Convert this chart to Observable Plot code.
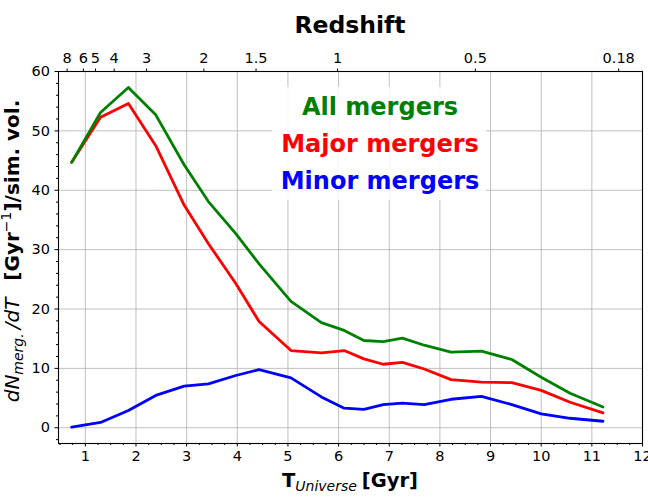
<!DOCTYPE html>
<html>
<head>
<meta charset="utf-8">
<script src="https://cdn.jsdelivr.net/npm/d3@7"></script>
<script src="https://cdn.jsdelivr.net/npm/@observablehq/plot@0.6"></script>
<style>
  html, body { margin: 0; padding: 0; background: white; }
  #chart { width: 648px; height: 504px; }
</style>
</head>
<body>
<div id="chart"></div>
<script>
// Cosmic time (Gyr) of each sample
const times = [0.73, 1.30, 1.85, 2.39, 2.95, 3.43, 3.97, 4.43, 5.06, 5.66, 6.11, 6.50, 6.88, 7.26, 7.69, 8.22, 8.82, 9.42, 10.0, 10.57, 11.22];
const allMergers   = [44.7, 53.1, 57.3, 52.7, 44.3, 38.1, 32.7, 27.6, 21.3, 17.7, 16.4, 14.7, 14.5, 15.1, 13.9, 12.75, 12.9, 11.5, 8.5, 5.8, 3.5];
const majorMergers = [44.7, 52.3, 54.6, 47.5, 37.5, 31.0, 24.3, 17.9, 13.0, 12.6, 13.0, 11.6, 10.7, 11.0, 9.9, 8.1, 7.7, 7.6, 6.3, 4.3, 2.5];
const minorMergers = [0.1, 0.9, 2.9, 5.45, 7.0, 7.4, 8.8, 9.8, 8.4, 5.2, 3.3, 3.1, 3.9, 4.15, 3.9, 4.8, 5.3, 3.9, 2.35, 1.6, 1.1];

// Bottom axis ticks
const xTicks = [1, 2, 3, 4, 5, 6, 7, 8, 9, 10, 11, 12];
const xMinorTicks = d3.range(0.5, 12.01, 0.25).filter(t => !xTicks.includes(t));
const yTicks = [0, 10, 20, 30, 40, 50, 60];
const yMinorTicks = d3.range(-2, 60.1, 2).filter(t => !yTicks.includes(t));

// Top (redshift) axis: labels and the cosmic time they sit at
const redshiftLabels = ["8", "6", "5", "4", "3", "2", "1.5", "1", "0.5", "0.18"];
const redshiftTimes  = [0.64, 0.96, 1.20, 1.57, 2.21, 3.34, 4.37, 5.98, 8.70, 11.53];

const seriesNames = ["All mergers", "Major mergers", "Minor mergers"];
const seriesColors = ["green", "red", "blue"];

const rows = [];
times.forEach((t, i) => {
  rows.push({t, v: majorMergers[i], s: "Major mergers"});
  rows.push({t, v: minorMergers[i], s: "Minor mergers"});
});
const rowsAll = times.map((t, i) => ({t, v: allMergers[i], s: "All mergers"}));
const zLabel = new Map(redshiftTimes.map((t, i) => [t, redshiftLabels[i]]));

const gridStyle = {stroke: "#b0b0b0", strokeOpacity: 1, strokeWidth: 0.8};

const plot = Plot.plot({
  width: 648,
  height: 504,
  marginLeft: 58,
  marginRight: 6,
  marginTop: 71,
  marginBottom: 61,
  style: {fontFamily: "DejaVu Sans", fontSize: "14px", color: "black", background: "white"},
  x: {domain: [0.47, 12], axis: null},
  y: {domain: [-2.65, 60], axis: null},
  color: {domain: seriesNames, range: seriesColors},
  marks: [
    Plot.gridX(xTicks, gridStyle),
    Plot.gridY(yTicks, gridStyle),
    Plot.line(rows, {x: "t", y: "v", z: "s", stroke: "s", strokeWidth: 2.8}),
    Plot.line(rowsAll, {x: "t", y: "v", stroke: "s", strokeWidth: 2.8}),
    Plot.frame({stroke: "black", strokeWidth: 1.1}),
    Plot.axisX(xTicks, {anchor: "bottom", tickSize: 3.5, tickPadding: 4, fontSize: 14.5, label: null, tickFormat: d => String(d)}),
    Plot.axisX(xMinorTicks, {anchor: "bottom", tickSize: 2, text: null, label: null}),
    Plot.axisY(yTicks, {anchor: "left", tickSize: 3.5, tickPadding: 5, fontSize: 14.5, label: null, tickFormat: d => String(d)}),
    Plot.axisY(yMinorTicks, {anchor: "left", tickSize: 2, text: null, label: null}),
    Plot.axisX(redshiftTimes, {anchor: "top", tickSize: 3.5, tickPadding: 5, fontSize: 14.5, label: null, tickFormat: d => zLabel.get(d)})
  ]
});

document.getElementById("chart").appendChild(plot);

const svg = d3.select(plot);
const ns = svg.append("g").attr("font-family", "DejaVu Sans").attr("fill", "black");

// Top title
ns.append("text").attr("x", 350).attr("y", 33).attr("text-anchor", "middle")
  .attr("font-size", 23.5).attr("font-weight", "bold").text("Redshift");

// X label
const xl = ns.append("text").attr("x", 350).attr("y", 487).attr("text-anchor", "middle").attr("font-size", 19.5);
xl.append("tspan").attr("font-weight", "bold").text("T");
xl.append("tspan").attr("font-style", "italic").attr("font-size", 14).attr("dy", 4).text("Universe");
xl.append("tspan").attr("font-weight", "bold").attr("dy", -4).attr("dx", 5).text("[Gyr]");

// Y label
const yl = ns.append("text").attr("transform", "translate(19,251) rotate(-90)").attr("text-anchor", "middle").attr("font-size", 20);
yl.append("tspan").attr("font-style", "italic").text("dN");
yl.append("tspan").attr("font-style", "italic").attr("font-size", 14).attr("dy", 4).text("merg.");
yl.append("tspan").attr("font-style", "italic").attr("dy", -4).attr("dx", 4).text("/dT");
yl.append("tspan").attr("font-weight", "bold").attr("dx", 17).text("[Gyr");
yl.append("tspan").attr("font-size", 14).attr("dy", -8).text("−1");
yl.append("tspan").attr("font-weight", "bold").attr("dy", 8).text("]/sim. vol.");

// Legend
const lg = svg.append("g").attr("font-family", "DejaVu Sans");
lg.append("rect").attr("x", 272).attr("y", 87).attr("width", 214).attr("height", 113).attr("fill", "white").attr("fill-opacity", 0.85);
seriesNames.forEach((name, i) => {
  lg.append("text").attr("x", 380).attr("y", 115 + i * 37).attr("text-anchor", "middle")
    .attr("font-size", 24).attr("font-weight", "bold").attr("fill", seriesColors[i]).text(name);
});
</script>
</body>
</html>
